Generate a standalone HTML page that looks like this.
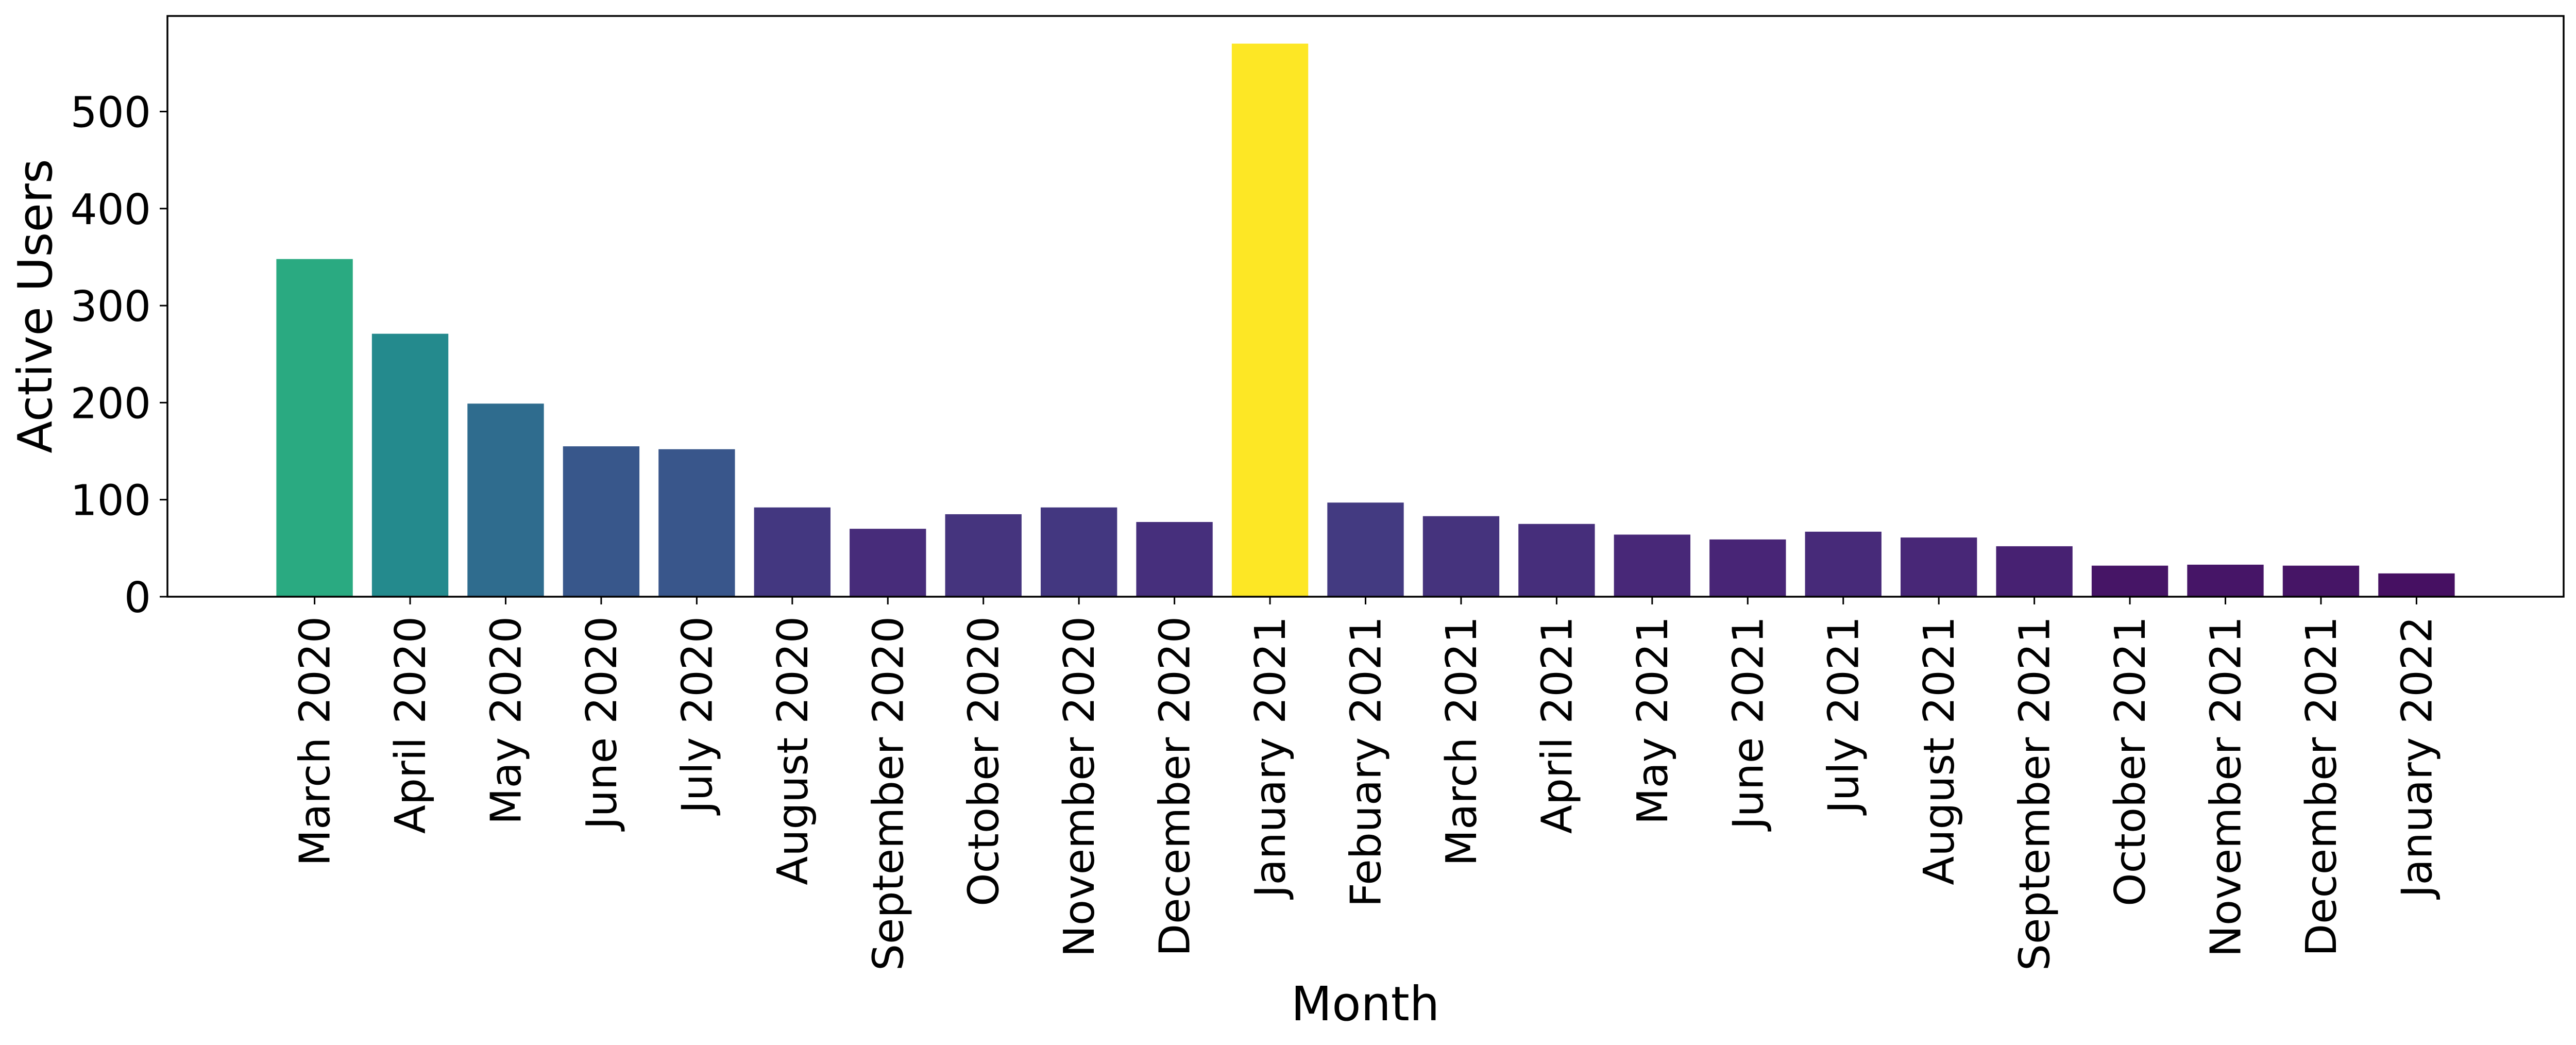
<!DOCTYPE html>
<html><head><meta charset="utf-8"><style>
html,body{margin:0;padding:0;background:#fff;}
svg{display:block;font-family:"DejaVu Sans","Liberation Sans",sans-serif;}
</style></head><body>
<svg id="chart" width="5004" height="2028" viewBox="0 0 5004 2028" xmlns="http://www.w3.org/2000/svg">
<rect width="5004" height="2028" fill="#fff"/>
<g id="bars"></g>
<g id="xticks"></g>
<g id="yticks"></g>
<rect x="325" y="31" width="4651" height="1127" fill="none" stroke="#000" stroke-width="3.5"/>
<text x="0" y="0" font-size="92" text-anchor="middle" transform="translate(100,594) rotate(-90)">Active Users</text>
<text x="2650" y="1980" font-size="92" text-anchor="middle">Month</text>
</svg>
<script>
const categories = ["March 2020","April 2020","May 2020","June 2020","July 2020","August 2020","September 2020","October 2020","November 2020","December 2020","January 2021","Febuary 2021","March 2021","April 2021","May 2021","June 2021","July 2021","August 2021","September 2021","October 2021","November 2021","December 2021","January 2022"];
const values = [348,271,199,155,152,92,70,85,92,77,570,97,83,75,64,59,67,61,52,32,33,32,24];
const yTicks = [0,100,200,300,400,500];

const NS = "http://www.w3.org/2000/svg";
const X0 = 325, X1 = 4976, Y0 = 1158, Y1 = 31;
const xMin = -1.54, xMax = categories.length - 1 + 1.54;
const yMax = Math.max(...values) * 1.05;
function xs(i){ return X0 + (i - xMin) / (xMax - xMin) * (X1 - X0); }
function ys(v){ return Y0 - v / yMax * (Y0 - Y1); }
const bw = 0.8 * (xs(1) - xs(0));

const viridis = [[68,1,84],[72,40,120],[62,74,137],[49,104,142],[38,130,142],[31,158,137],[53,183,121],[109,205,89],[180,222,44],[253,231,37]];
function cmap(t){
  t = Math.max(0, Math.min(1, t));
  const p = t * (viridis.length - 1), i = Math.min(Math.floor(p), viridis.length - 2), f = p - i;
  const c = viridis[i].map((a, k) => Math.round(a + (viridis[i+1][k] - a) * f));
  return "rgb(" + c.join(",") + ")";
}
const vmax = Math.max(...values);

const gb = document.getElementById("bars");
const gx = document.getElementById("xticks");
const gy = document.getElementById("yticks");
values.forEach((v, i) => {
  const r = document.createElementNS(NS, "rect");
  r.setAttribute("x", xs(i) - bw/2);
  r.setAttribute("y", ys(v));
  r.setAttribute("width", bw);
  r.setAttribute("height", Y0 - ys(v));
  r.setAttribute("fill", cmap(v / vmax));
  
  
  gb.appendChild(r);

  const t = document.createElementNS(NS, "line");
  t.setAttribute("x1", xs(i)); t.setAttribute("x2", xs(i));
  t.setAttribute("y1", Y0); t.setAttribute("y2", Y0 + 15);
  t.setAttribute("stroke", "#000"); t.setAttribute("stroke-width", "3");
  
  
  gx.appendChild(t);

  const l = document.createElementNS(NS, "text");
  l.setAttribute("font-size", "82");
  l.setAttribute("text-anchor", "end");
  l.setAttribute("transform", "translate(" + (xs(i) + 29) + "," + (Y0 + 38) + ") rotate(-90)");
  l.textContent = categories[i];
  
  
  gx.appendChild(l);
});
yTicks.forEach(v => {
  const t = document.createElementNS(NS, "line");
  t.setAttribute("x1", X0 - 15); t.setAttribute("x2", X0);
  t.setAttribute("y1", ys(v)); t.setAttribute("y2", ys(v));
  t.setAttribute("stroke", "#000"); t.setAttribute("stroke-width", "3");
  
  
  gy.appendChild(t);
  const l = document.createElementNS(NS, "text");
  l.setAttribute("x", X0 - 32);
  l.setAttribute("y", ys(v) + 30);
  l.setAttribute("font-size", "82");
  l.setAttribute("text-anchor", "end");
  l.textContent = v;
  
  
  gy.appendChild(l);
});
</script>
</body></html>
